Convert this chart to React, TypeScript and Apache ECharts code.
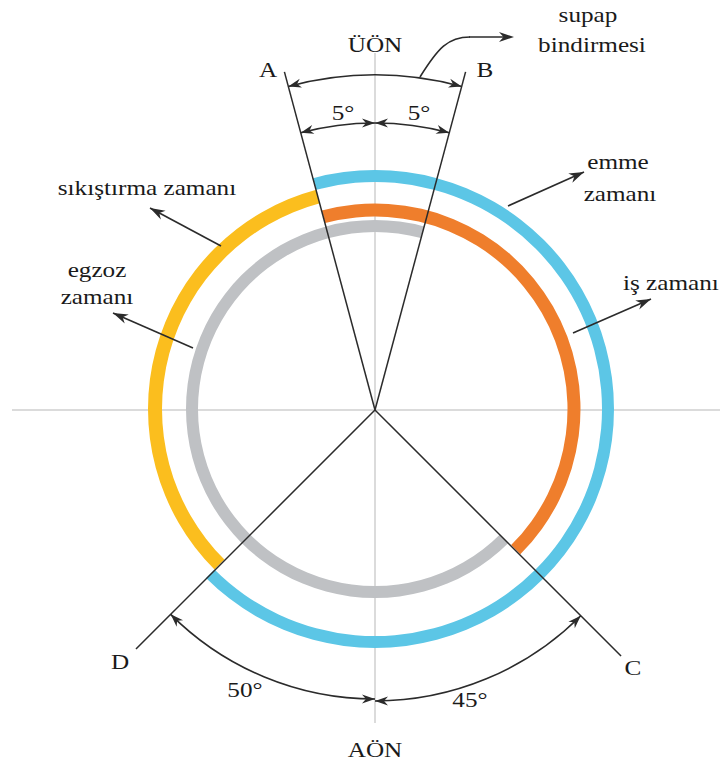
import React, { useEffect, useRef } from "react";
import * as echarts from "echarts";

// ---- data (drawn angles, degrees clockwise from ÜÖN) ----
const strokeNames = ["emme zamanı", "sıkıştırma zamanı", "iş zamanı", "egzoz zamanı"];
const strokeStart = [-15, 225, -15, 135];
const strokeEnd = [225, 345, 135, 375];

const markerLabels = ["A", "B", "C", "D"];
const markerAngles = [345, 15, 135, 225];

const refAxisAngles = [0, 90, 180, 270];
const refLabels = ["ÜÖN", "AÖN"];

const dimLabels = ["", "5°", "5°", "50°", "45°"];
const dimFrom = [-15, -15, 0, 180, 135];
const dimTo = [15, 0, 15, 225, 180];

// ---- layout / style ----
const CX = 375;
const CY = 410;
const strokeRadius = [233, 220, 199, 183];
const strokeWidth = [12, 14, 13, 12];
const strokeColors = ["#5CC6E6", "#FBBE1E", "#EF7E2C", "#BFC1C4"];
const markerLength = [350, 350, 348, 338];
const refAxisLength = [357, 345, 313, 363];
const dimRadius = [335, 287, 287, 289, 291];
const dimLabelPos = [
  [0, 0],
  [343, 113],
  [419, 113],
  [245, 690],
  [470, 700],
];
const markerLabelPos = [
  [268, 70],
  [485, 70],
  [633, 668],
  [120, 662],
];
const refLabelPos = [
  [375, 45],
  [375, 750],
];
const INK = "#2b2b2b";
const FONT = "Liberation Serif, serif";
const FS = 21;
const SX = 1.2;

const rad = (d: number) => (d * Math.PI) / 180;
const polarXY = (r: number, a: number) => [CX + r * Math.sin(rad(a)), CY - r * Math.cos(rad(a))];

function arrowHead(tx: number, ty: number, dx: number, dy: number, L = 13, W = 8) {
  const len = Math.hypot(dx, dy);
  const ux = dx / len;
  const uy = dy / len;
  const nx = -uy;
  const ny = ux;
  return {
    type: "polygon",
    z: 120,
    silent: true,
    shape: {
      points: [
        [tx, ty],
        [tx - L * ux + (W / 2) * nx, ty - L * uy + (W / 2) * ny],
        [tx - 0.7 * L * ux, ty - 0.7 * L * uy],
        [tx - L * ux - (W / 2) * nx, ty - L * uy - (W / 2) * ny],
      ],
    },
    style: { fill: INK },
  };
}

function txt(s: string, x: number, y: number, align = "center") {
  return {
    type: "text",
    x,
    y,
    z: 130,
    scaleX: SX,
    silent: true,
    style: {
      text: s,
      fontFamily: FONT,
      fontSize: FS,
      fill: "#1a1a1a",
      align,
      verticalAlign: "middle",
    },
  };
}

function leader(sx: number, sy: number, tx: number, ty: number) {
  return [
    {
      type: "line",
      z: 115,
      silent: true,
      shape: { x1: sx, y1: sy, x2: tx, y2: ty },
      style: { stroke: INK, lineWidth: 1.6 },
    },
    arrowHead(tx, ty, tx - sx, ty - sy, 15, 10),
  ];
}

export default function App() {
  const ref = useRef<HTMLDivElement>(null);
  useEffect(() => {
    if (!ref.current) return;
    const chart = echarts.init(ref.current, undefined, { renderer: "svg" });

    const norm = (a: number) => ((a % 360) + 360) % 360;

    const ringSeries = strokeNames.map((name, i) => {
      const span = strokeEnd[i] - strokeStart[i];
      const r = strokeRadius[i];
      const w = strokeWidth[i];
      return {
        type: "pie",
        name,
        center: [CX, CY - 1],
        radius: [r - w / 2, r + w / 2],
        startAngle: norm(90 - strokeStart[i]),
        clockwise: true,
        silent: true,
        z: 3,
        label: { show: false },
        labelLine: { show: false },
        emphasis: { disabled: true },
        itemStyle: { borderWidth: 0 },
        data: [
          { name, value: span, itemStyle: { color: strokeColors[i] } },
          { name: "", value: 360 - span, itemStyle: { color: "rgba(0,0,0,0)" } },
        ],
      };
    });

    const axisSeries = refAxisAngles.map((a, i) => ({
      type: "line",
      coordinateSystem: "polar",
      symbol: "none",
      silent: true,
      z: 1,
      lineStyle: { color: "#cfcfcf", width: 1.5 },
      data: [
        [0, a],
        [refAxisLength[i], a],
      ],
    }));

    const markerSeries = markerLabels.map((m, i) => ({
      type: "line",
      name: m,
      coordinateSystem: "polar",
      symbol: "none",
      silent: true,
      z: 10,
      lineStyle: { color: INK, width: 1.5 },
      data: [
        [0, markerAngles[i]],
        [markerLength[i], markerAngles[i]],
      ],
    }));

    const graphics: any[] = [];
    // dimension arcs
    dimFrom.forEach((from, i) => {
      const to = dimTo[i];
      const r = dimRadius[i];
      graphics.push({
        type: "arc",
        z: 110,
        silent: true,
        shape: { cx: CX, cy: CY, r, startAngle: rad(from - 90), endAngle: rad(to - 90), clockwise: true },
        style: { stroke: INK, lineWidth: 1.6, fill: null },
      });
      const [x1, y1] = polarXY(r, from);
      graphics.push(arrowHead(x1, y1, -Math.cos(rad(from)), -Math.sin(rad(from)), 13, 9));
      const [x2, y2] = polarXY(r, to);
      graphics.push(arrowHead(x2, y2, Math.cos(rad(to)), Math.sin(rad(to)), 13, 9));
      if (dimLabels[i]) graphics.push(txt(dimLabels[i], dimLabelPos[i][0], dimLabelPos[i][1]));
    });

    // supap bindirmesi leader
    graphics.push({
      type: "bezierCurve",
      z: 115,
      silent: true,
      shape: { x1: 420, y1: 77, cpx1: 438, cpy1: 48, cpx2: 448, cpy2: 37, x2: 470, y2: 37 },
      style: { stroke: INK, lineWidth: 1.6, fill: null },
    });
    graphics.push({
      type: "line",
      z: 115,
      silent: true,
      shape: { x1: 469, y1: 37, x2: 505, y2: 37 },
      style: { stroke: INK, lineWidth: 1.6 },
    });
    graphics.push(arrowHead(514, 37, 1, 0, 15, 10));
    graphics.push(txt("supap", 588, 15));
    graphics.push(txt("bindirmesi", 592, 45));

    // stroke leaders and labels
    graphics.push(...leader(221, 246, 150, 208));
    graphics.push(txt(strokeNames[1], 147, 188));
    graphics.push(...leader(193, 348, 113, 313));
    graphics.push(txt("egzoz", 97, 270));
    graphics.push(txt("zamanı", 97, 297));
    graphics.push(...leader(508, 206, 584, 172));
    graphics.push(txt("emme", 618, 162));
    graphics.push(txt("zamanı", 620, 194));
    graphics.push(...leader(573, 333, 651, 299));
    graphics.push(txt(strokeNames[2], 623, 283, "left"));

    markerLabels.forEach((m, i) => graphics.push(txt(m, markerLabelPos[i][0], markerLabelPos[i][1])));
    refLabels.forEach((m, i) => graphics.push(txt(m, refLabelPos[i][0], refLabelPos[i][1])));

    chart.setOption({
      animation: false,
      backgroundColor: "#ffffff",
      polar: { center: [CX, CY], radius: 400 },
      angleAxis: {
        type: "value",
        min: 0,
        max: 360,
        startAngle: 90,
        clockwise: true,
        show: false,
      },
      radiusAxis: { type: "value", min: 0, max: 400, show: false },
      series: [...axisSeries, ...ringSeries, ...markerSeries],
      graphic: { elements: graphics },
    });

    return () => chart.dispose();
  }, []);

  return <div ref={ref} style={{ width: 720, height: 766, position: "absolute", left: 0, top: 0 }} />;
}
